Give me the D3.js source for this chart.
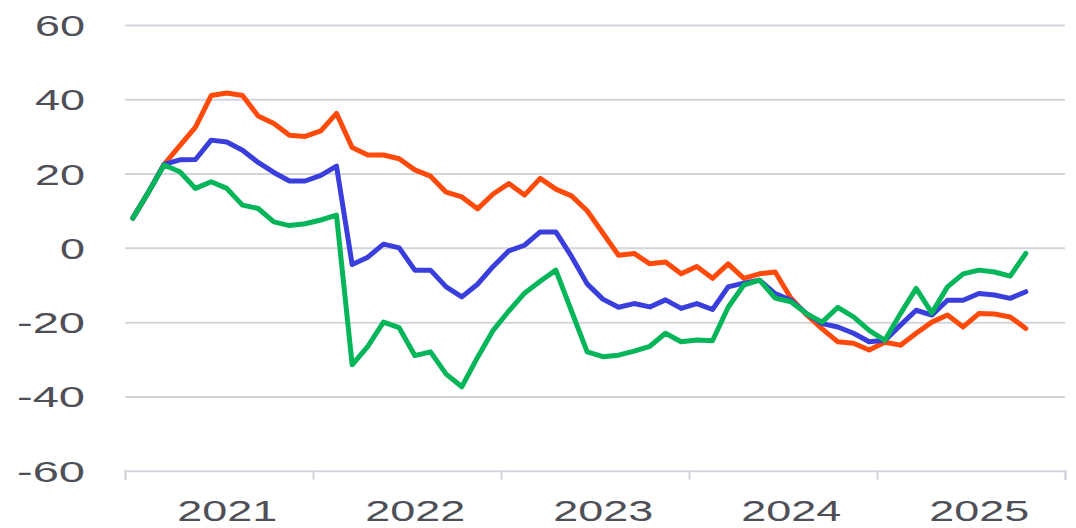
<!DOCTYPE html>
<html>
<head>
<meta charset="utf-8">
<script src="https://cdn.jsdelivr.net/npm/d3@7"></script>
<style>
  html, body { margin: 0; padding: 0; background: #ffffff; }
  svg { display: block; }
</style>
</head>
<body>
<div id="chart"></div>
<script>
// ---- Data (monthly, Jan 2021 – Oct 2025) ----
const years = ["2021", "2022", "2023", "2024", "2025"];
const yTicks = [-60, -40, -20, 0, 20, 40, 60];

const seriesRed = [
  8, 15, 22.5, 27.5, 32.5, 41, 41.7, 41, 35.5, 33.5, 30.3, 30,
  31.5, 36.2, 27, 25, 25, 24, 21, 19.3, 15, 13.7, 10.5, 14.5,
  17.3, 14.2, 18.7, 15.8, 14, 10, 4, -2, -1.5, -4.3, -3.8, -7,
  -5, -8.2, -4.3, -8.2, -7, -6.5, -13.5, -18, -21.8, -25.3, -25.7, -27.5,
  -25.4, -26.2, -23, -20, -18.1, -21.3, -17.7, -17.8, -18.6, -21.7
];
const seriesBlue = [
  8, 15, 22.5, 23.7, 23.8, 29, 28.5, 26.3, 23, 20.3, 18, 18,
  19.5, 22, -4.5, -2.5, 1, 0, -6, -6, -10.5, -13.2, -9.8, -5,
  -0.8, 0.7, 4.3, 4.3, -2.3, -9.7, -13.8, -16, -15, -15.9, -14, -16.3,
  -15, -16.6, -10.5, -9.5, -8.7, -12.3, -14.1, -17.7, -20.4, -21.3, -23, -25.3,
  -24.9, -20.8, -16.8, -18.1, -14.1, -14.1, -12.3, -12.7, -13.6, -11.8
];
const seriesGreen = [
  8, 15, 22.3, 20.5, 16, 17.8, 16, 11.5, 10.6, 7, 6, 6.5,
  7.5, 8.8, -31.5, -26.5, -20, -21.5, -29, -28, -34, -37.4, -29.5, -22.2,
  -17, -12.2, -9, -6, -17, -28, -29.3, -28.9, -27.8, -26.5, -23, -25.3,
  -24.8, -25, -16, -10, -8.7, -13.5, -14.5, -17.7, -20, -16, -18.6, -22.2,
  -24.9, -17.7, -10.9, -17.5, -10.5, -7, -6, -6.5, -7.6, -1.5
];

const series = [
  { name: "red", values: seriesRed, color: "#FF4A0A" },
  { name: "blue", values: seriesBlue, color: "#3A3EDC" },
  { name: "green", values: seriesGreen, color: "#05B55A" }
];

// ---- Layout ----
const W = 1076, H = 528;
const margin = { left: 125, right: 11, top: 25, bottom: 57.3 };

const svg = d3.select("#chart").append("svg")
  .attr("width", W).attr("height", H);

const x = d3.scaleLinear()
  .domain([0, years.length * 12])
  .range([margin.left, W - margin.right]);
const y = d3.scaleLinear()
  .domain([-60, 60])
  .range([H - margin.bottom, margin.top]);

const fontFam = "'Liberation Sans', Arial, sans-serif";
const textColor = "#4F4F57";
const gridColor = "#D3D5DD";

// ---- Y axis with gridlines ----
const yAxis = svg.append("g")
  .attr("transform", `translate(${margin.left},0)`)
  .call(d3.axisLeft(y).tickValues(yTicks.filter(v => v > -60))
    .tickSize(-(W - margin.left - margin.right))
    .tickPadding(40)
    .tickFormat(d => d3.format("d")(d)));
yAxis.select(".domain").remove();
yAxis.selectAll(".tick line").attr("stroke", gridColor).attr("stroke-width", 2);

// labels for all y ticks (incl. -60, which sits on the x axis line)
const yLab = svg.append("g")
  .attr("transform", `translate(${margin.left},0)`)
  .call(d3.axisLeft(y).tickValues(yTicks).tickSize(0).tickPadding(40)
    .tickFormat(d => (d < 0 ? "-" : "") + Math.abs(d)));
yLab.select(".domain").remove();
yAxis.selectAll("text").remove();
yLab.selectAll("text")
  .attr("font-family", fontFam)
  .attr("font-size", 29)
  .attr("fill", textColor)
  .attr("dy", "0.36em")
  .attr("lengthAdjust", "spacingAndGlyphs")
  .attr("textLength", d => {
    const s = String(Math.abs(d));
    return s.length * 25 + (d < 0 ? 18 : 0);
  });

// ---- X axis: ticks at year boundaries ----
const xAxis = svg.append("g")
  .attr("transform", `translate(0,${y(-60)})`)
  .call(d3.axisBottom(x).tickValues(d3.range(0, years.length * 12 + 1, 12))
    .tickSize(9).tickFormat(""));
xAxis.select(".domain").attr("stroke", gridColor).attr("stroke-width", 2);
xAxis.selectAll(".tick line").attr("stroke", gridColor).attr("stroke-width", 2);

// year labels, placed at each year's July
const xLab = svg.append("g")
  .attr("transform", `translate(0,${y(-60)})`)
  .call(d3.axisBottom(x).tickValues(years.map((yr, i) => i * 12 + 6.5))
    .tickSize(0).tickPadding(30)
    .tickFormat((d, i) => years[i]));
xLab.select(".domain").remove();
xLab.selectAll("text")
  .attr("font-family", fontFam)
  .attr("font-size", 29)
  .attr("fill", textColor)
  .attr("lengthAdjust", "spacingAndGlyphs")
  .attr("textLength", 100);

// ---- Lines ----
const line = d3.line()
  .x((d, i) => x(i + 0.5))
  .y(d => y(d));

svg.append("g").selectAll("path")
  .data(series)
  .join("path")
  .attr("d", d => line(d.values))
  .attr("fill", "none")
  .attr("stroke", d => d.color)
  .attr("stroke-width", 5)
  .attr("stroke-linejoin", "round")
  .attr("stroke-linecap", "round");
</script>
</body>
</html>
